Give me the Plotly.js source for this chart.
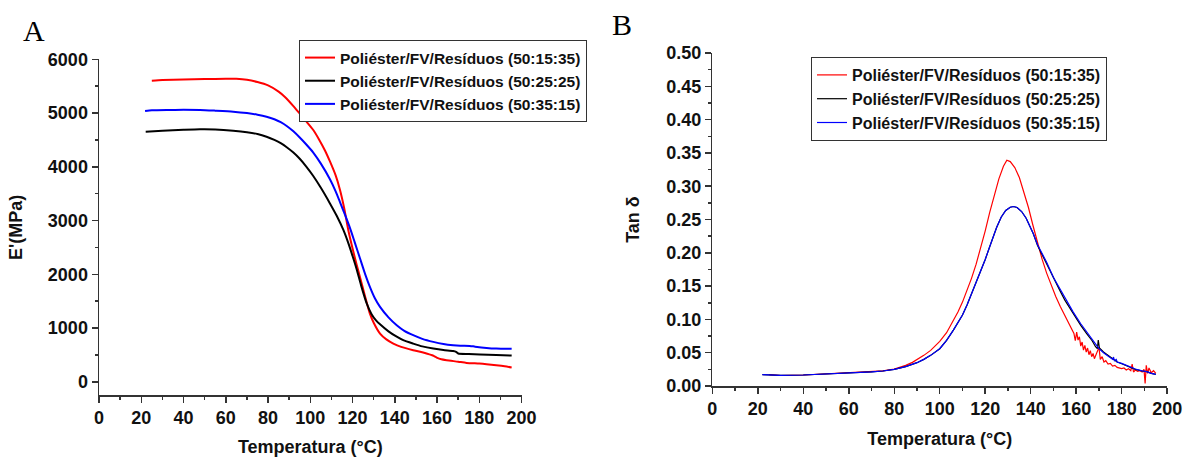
<!DOCTYPE html>
<html>
<head>
<meta charset="utf-8">
<script src="https://cdn.plot.ly/plotly-3.0.1.min.js"></script>
<style>html,body{margin:0;padding:0;background:#fff;}#chart{width:1185px;height:457px;}</style>
</head>
<body>
<div id="chart"></div>
<script>
// ---------- Data ----------
const seriesNames = ["Poliéster/FV/Resíduos (50:15:35)", "Poliéster/FV/Resíduos (50:25:25)", "Poliéster/FV/Resíduos (50:35:15)"];

// Panel A: storage modulus E' (MPa) vs temperature (°C)
const tA_red = [25, 30, 40, 50, 60, 65, 70, 75, 80, 85, 88, 92, 95, 98, 101.4, 104, 107, 109.3, 112, 114, 116, 118, 120, 122, 123.5, 126, 128.2, 130, 133, 136, 139.3, 143, 148.7, 152, 155, 158, 159.8, 162, 164.5, 170, 174, 180, 183.4, 188, 192, 195.3];
const eA_red = [5603, 5615, 5625, 5632, 5640, 5638, 5620, 5578, 5515, 5400, 5300, 5130, 4990, 4850, 4686, 4520, 4300, 4100, 3840, 3580, 3240, 2821, 2480, 2170, 1952, 1580, 1270, 1100, 898, 790, 712, 650, 589, 560, 527, 490, 452, 420, 403, 375, 353, 340, 329, 310, 290, 266];

const tA_black = [22.1, 30, 40, 47.8, 55, 63.5, 70, 75, 79.3, 83, 86, 89, 92, 95, 98, 101.4, 105, 109.3, 112.5, 115.6, 118, 120, 121.9, 124, 126.6, 129, 131, 133, 137, 140.9, 144, 148.7, 153, 158.2, 163, 167.6, 169, 170, 175, 180.3, 188, 195.3];
const eA_black = [4654, 4672, 4688, 4698, 4695, 4673, 4645, 4610, 4560, 4500, 4440, 4360, 4265, 4150, 4010, 3830, 3610, 3320, 3090, 2830, 2580, 2340, 2100, 1800, 1470, 1260, 1150, 1070, 940, 840, 775, 712, 660, 619, 592, 576, 560, 527, 518, 508, 498, 489];

const tA_blue = [21.8, 25, 32, 40, 47.8, 55, 63.5, 70, 75, 79.3, 83, 86, 89, 92, 95, 98, 101.4, 105, 109.3, 112, 114, 116.5, 118.8, 121, 123.5, 126, 128.2, 130.5, 133, 137, 140.9, 144.5, 148.7, 153, 158.2, 163, 167.6, 171, 175.5, 178, 183.4, 188, 195.3];
const eA_blue = [5039, 5052, 5058, 5060, 5058, 5045, 5026, 5000, 4970, 4933, 4885, 4830, 4755, 4660, 4545, 4420, 4265, 4060, 3770, 3545, 3350, 3100, 2860, 2600, 2300, 2000, 1766, 1560, 1395, 1200, 1054, 950, 868, 800, 744, 705, 682, 672, 669, 655, 632, 620, 614];

// Panel B: tan delta vs temperature (°C)
const tB_red = [25, 30, 40, 50, 60, 70, 75, 80, 85, 88, 90, 93, 96, 100, 103, 106, 108, 110, 112, 114, 116, 118, 120, 122, 124, 126, 128, 129.5, 131, 133, 135, 137, 139, 141, 143, 145, 147, 149, 151, 153, 155, 156, 157, 158, 159, 159.6, 160.2, 160.8, 161.4, 162, 162.6, 163.2, 163.8, 164.4, 165, 165.6, 166.2, 166.8, 167.4, 168, 168.6, 169.2, 170, 170.6, 171.4, 172.2, 173, 174, 175, 176, 177, 178, 179, 180, 181, 182, 183, 184, 184.6, 185.2, 186, 187, 188, 189, 189.8, 190.3, 190.8, 191.4, 192, 193, 194, 195];
const tanB_red = [0.0170, 0.0158, 0.0165, 0.0180, 0.0195, 0.0215, 0.0228, 0.0255, 0.0310, 0.0355, 0.0395, 0.0460, 0.0535, 0.0670, 0.0800, 0.0975, 0.1110, 0.1260, 0.1430, 0.1620, 0.1830, 0.2070, 0.2330, 0.2610, 0.2880, 0.3110, 0.3300, 0.3390, 0.3370, 0.3280, 0.3130, 0.2920, 0.2680, 0.2410, 0.2145, 0.1905, 0.1695, 0.1510, 0.1345, 0.1195, 0.1060, 0.0990, 0.0930, 0.0850, 0.0790, 0.0680, 0.0810, 0.0690, 0.0740, 0.0600, 0.0660, 0.0540, 0.0610, 0.0510, 0.0570, 0.0470, 0.0530, 0.0440, 0.0490, 0.0410, 0.0460, 0.0520, 0.0580, 0.0400, 0.0440, 0.0360, 0.0380, 0.0330, 0.0340, 0.0300, 0.0310, 0.0280, 0.0270, 0.0260, 0.0270, 0.0240, 0.0260, 0.0230, 0.0330, 0.0210, 0.0240, 0.0220, 0.0230, 0.0210, 0.0250, 0.0040, 0.0310, 0.0190, 0.0270, 0.0200, 0.0230, 0.0190];

const tB_black = [22, 25, 30, 40, 50, 60, 70, 75, 80, 85, 88, 90, 93, 96, 100, 103, 106, 108, 110, 112, 114, 116, 118, 120, 122, 123.5, 125, 127, 129, 131, 132.4, 134, 136, 138, 140, 141.1, 143, 145, 147, 150, 152.8, 155, 158.7, 162, 164.6, 167, 168.5, 169.3, 169.7, 170.2, 172, 175, 178, 180, 183, 186, 189, 191, 193, 195];
const tanB_black = [0.0170, 0.0165, 0.0160, 0.0165, 0.0178, 0.0193, 0.0212, 0.0225, 0.0250, 0.0290, 0.0320, 0.0350, 0.0400, 0.0460, 0.0560, 0.0686, 0.0840, 0.0945, 0.1065, 0.1215, 0.1380, 0.1550, 0.1720, 0.1900, 0.2095, 0.2240, 0.2380, 0.2535, 0.2635, 0.2685, 0.2695, 0.2680, 0.2620, 0.2520, 0.2380, 0.2290, 0.2110, 0.1970, 0.1840, 0.1610, 0.1436, 0.1290, 0.1086, 0.0910, 0.0786, 0.0680, 0.0590, 0.0560, 0.0690, 0.0570, 0.0510, 0.0430, 0.0360, 0.0335, 0.0290, 0.0250, 0.0225, 0.0215, 0.0190, 0.0175];

const tB_blue = [22, 25, 30, 40, 50, 60, 70, 75, 80, 85, 88, 90, 93, 96, 100, 103, 106, 108, 110, 112, 114, 116, 118, 120, 122, 123.5, 125, 127, 129, 131, 132.4, 134, 136, 138, 140, 141.1, 143, 145, 147, 150, 152.8, 155, 158.7, 162, 164.6, 167, 170, 172, 174, 176, 176.4, 176.8, 177.6, 178, 180, 183, 186, 189, 191, 193, 195];
const tanB_blue = [0.0170, 0.0165, 0.0160, 0.0165, 0.0178, 0.0193, 0.0212, 0.0225, 0.0250, 0.0290, 0.0320, 0.0350, 0.0400, 0.0460, 0.0560, 0.0686, 0.0840, 0.0945, 0.1065, 0.1215, 0.1380, 0.1550, 0.1720, 0.1900, 0.2095, 0.2240, 0.2380, 0.2535, 0.2635, 0.2685, 0.2695, 0.2680, 0.2620, 0.2520, 0.2380, 0.2290, 0.2120, 0.1985, 0.1860, 0.1630, 0.1460, 0.1315, 0.1110, 0.0935, 0.0810, 0.0700, 0.0560, 0.0500, 0.0450, 0.0400, 0.0435, 0.0380, 0.0400, 0.0360, 0.0340, 0.0295, 0.0255, 0.0228, 0.0215, 0.0190, 0.0175];

const colors = ["#ff0000", "#000000", "#0000ff"];

// ---------- Layout ----------
const W = 1185, H = 457;
const FONT = "Liberation Sans, Arial, Helvetica, sans-serif";
const tickFont = {family: FONT, size: 18, weight: "bold", color: "#111"};
const titleFont = {family: FONT, size: 18, weight: "bold", color: "#111"};

function axisBase() {
  return {
    showline: true, linecolor: "#333", linewidth: 1.5,
    ticks: "outside", ticklen: 6, tickwidth: 1.5, tickcolor: "#333",
    showgrid: false, zeroline: false, tickfont: tickFont,
    minor: {ticks: "outside", ticklen: 3, tickwidth: 1.5, tickcolor: "#333", showgrid: false}
  };
}

const xA = Object.assign(axisBase(), {
  domain: [99 / W, 521.7 / W], range: [0, 200.05], tick0: 0, dtick: 20, anchor: "y",
  title: {text: "Temperatura (°C)", font: titleFont, standoff: 14}
});
xA.minor.dtick = 10;
const yA = Object.assign(axisBase(), {
  domain: [(H - 395.3) / H, (H - 59.3) / H], range: [-250, 6000.5], tick0: 0, dtick: 1000, anchor: "x",
  title: {text: "E'(MPa)", font: titleFont, standoff: 20}
});
yA.minor.dtick = 500;
const xB = Object.assign(axisBase(), {
  domain: [712.3 / W, 1167.3 / W], range: [0, 200.05], tick0: 0, dtick: 20, anchor: "y2",
  title: {text: "Temperatura (°C)", font: titleFont, standoff: 14}
});
xB.minor.dtick = 10;
const yB = Object.assign(axisBase(), {
  domain: [(H - 386) / H, (H - 53) / H], range: [0, 0.50005], tick0: 0, dtick: 0.05, tickformat: ".2f", anchor: "x2",
  title: {text: "Tan δ", font: titleFont, standoff: 22}
});
yB.minor.dtick = 0.025;

function legendBase(size) {
  return {
    xanchor: "left", yanchor: "top", bgcolor: "#ffffff", bordercolor: "#333", borderwidth: 1,
    font: {family: FONT, size: size, weight: "bold", color: "#111"}, tracegroupgap: 0
  };
}

const traces = [
  {x: tA_red, y: eA_red, name: seriesNames[0], xaxis: "x", yaxis: "y", legend: "legend", line: {color: colors[0], width: 2, shape: "spline", smoothing: 0.6}},
  {x: tA_black, y: eA_black, name: seriesNames[1], xaxis: "x", yaxis: "y", legend: "legend", line: {color: colors[1], width: 2, shape: "spline", smoothing: 0.6}},
  {x: tA_blue, y: eA_blue, name: seriesNames[2], xaxis: "x", yaxis: "y", legend: "legend", line: {color: colors[2], width: 2, shape: "spline", smoothing: 0.6}},
  {x: tB_red, y: tanB_red, name: seriesNames[0], xaxis: "x2", yaxis: "y2", legend: "legend2", line: {color: colors[0], width: 1.2}},
  {x: tB_black, y: tanB_black, name: seriesNames[1], xaxis: "x2", yaxis: "y2", legend: "legend2", line: {color: colors[1], width: 1.2}},
  {x: tB_blue, y: tanB_blue, name: seriesNames[2], xaxis: "x2", yaxis: "y2", legend: "legend2", line: {color: colors[2], width: 1.2}}
].map(t => Object.assign({type: "scatter", mode: "lines", hoverinfo: "skip"}, t));

const layout = {
  width: W, height: H, margin: {l: 0, r: 0, t: 0, b: 0},
  paper_bgcolor: "#ffffff", plot_bgcolor: "#ffffff",
  showlegend: true,
  xaxis: xA, yaxis: yA, xaxis2: xB, yaxis2: yB,
  legend: Object.assign({x: 299 / W, y: 1 - 40 / H}, legendBase(15.5)),
  legend2: Object.assign({x: 811 / W, y: 1 - 57 / H}, legendBase(16)),
  annotations: [
    {text: "A", xref: "paper", yref: "paper", x: 34 / W, y: 1 - 30 / H, xanchor: "center", yanchor: "middle", showarrow: false,
     font: {family: "Liberation Serif, Times New Roman, serif", size: 30, color: "#000"}},
    {text: "B", xref: "paper", yref: "paper", x: 622 / W, y: 1 - 25 / H, xanchor: "center", yanchor: "middle", showarrow: false,
     font: {family: "Liberation Serif, Times New Roman, serif", size: 30, color: "#000"}}
  ]
};

Plotly.newPlot("chart", traces, layout, {staticPlot: true, displayModeBar: false});
</script>
</body>
</html>
